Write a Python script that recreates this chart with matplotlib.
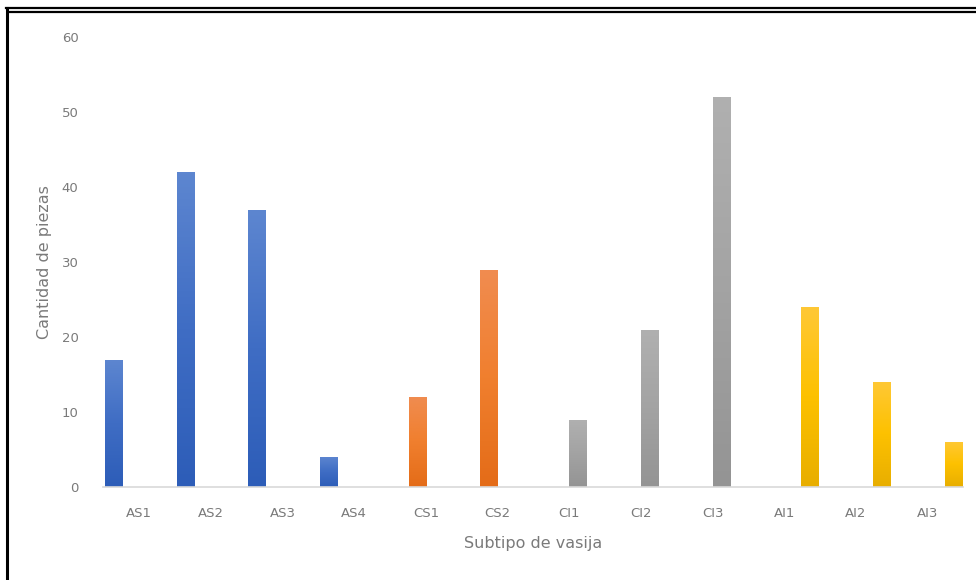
import matplotlib.pyplot as plt
import numpy as np
from matplotlib.lines import Line2D
from matplotlib.colors import LinearSegmentedColormap

# Data
categories = ['AS1', 'AS2', 'AS3', 'AS4', 'CS1', 'CS2', 'CI1', 'CI2', 'CI3', 'AI1', 'AI2', 'AI3']
counts = [17, 42, 37, 4, 12, 29, 9, 21, 52, 24, 14, 6]
groups = ['AS', 'AS', 'AS', 'AS', 'CS', 'CS', 'CI', 'CI', 'CI', 'AI', 'AI', 'AI']
series = ['AS', 'CS', 'CI', 'AI']

# (top, middle, bottom) shades for the Excel-like gradient fill
shades = {
    'AS': ('#5d86d0', '#3f6dc4', '#2d5db8'),
    'CS': ('#f08c50', '#f07f2e', '#e46c18'),
    'CI': ('#b0b0b0', '#a3a3a3', '#949494'),
    'AI': ('#ffc835', '#fdc100', '#e8ae00'),
}

x = np.arange(len(categories))
bar_width = 0.24

fig = plt.figure(figsize=(9.76, 5.8), dpi=100)
ax = fig.add_axes([0.106, 0.160, 0.881, 0.776])

# Excel-style clustered bars: each series keeps its own slot inside the category
for i, (val, grp) in enumerate(zip(counts, groups)):
    slot = series.index(grp)
    left = x[i] + (slot - 2) * bar_width
    bars = ax.bar(left, val, bar_width, align='edge', color=shades[grp][1], linewidth=0)
    cmap = LinearSegmentedColormap.from_list(grp, list(reversed(shades[grp])))
    grad = np.linspace(0, 1, 100).reshape(-1, 1)
    im = ax.imshow(grad, cmap=cmap, origin='lower', aspect='auto',
                   extent=(left, left + bar_width, 0, val), zorder=2)
    im.set_clip_path(bars[0])

ax.set_xlim(-0.5, len(categories) - 0.5)
ax.set_ylim(0, 60)
ax.set_yticks(range(0, 61, 10))
ax.set_xticks(x)
ax.set_xticklabels(categories)

tick_color = '#7a7a7a'
ax.tick_params(axis='both', length=0, labelsize=9.5, labelcolor=tick_color)
ax.tick_params(axis='y', pad=18)
ax.tick_params(axis='x', pad=14)
for side in ['top', 'right', 'left']:
    ax.spines[side].set_visible(False)
ax.spines['bottom'].set_color('#d9d9d9')
ax.spines['bottom'].set_linewidth(1.2)
ax.spines['bottom'].set_zorder(3)

ax.set_xlabel('Subtipo de vasija', fontsize=11.5, color=tick_color, labelpad=12)
ax.set_ylabel('Cantidad de piezas', fontsize=11.5, color=tick_color, labelpad=7)

# Frame of the cropped screenshot
fig.add_artist(Line2D([6 / 976, 1], [1 - 8 / 580, 1 - 8 / 580], color='black', lw=1.6, transform=fig.transFigure))
fig.add_artist(Line2D([9 / 976, 1], [1 - 12 / 580, 1 - 12 / 580], color='black', lw=1.6, transform=fig.transFigure))
fig.add_artist(Line2D([7 / 976, 7 / 976], [0, 1 - 8 / 580], color='black', lw=2.2, transform=fig.transFigure))

fig.savefig('out.png', dpi=100)
